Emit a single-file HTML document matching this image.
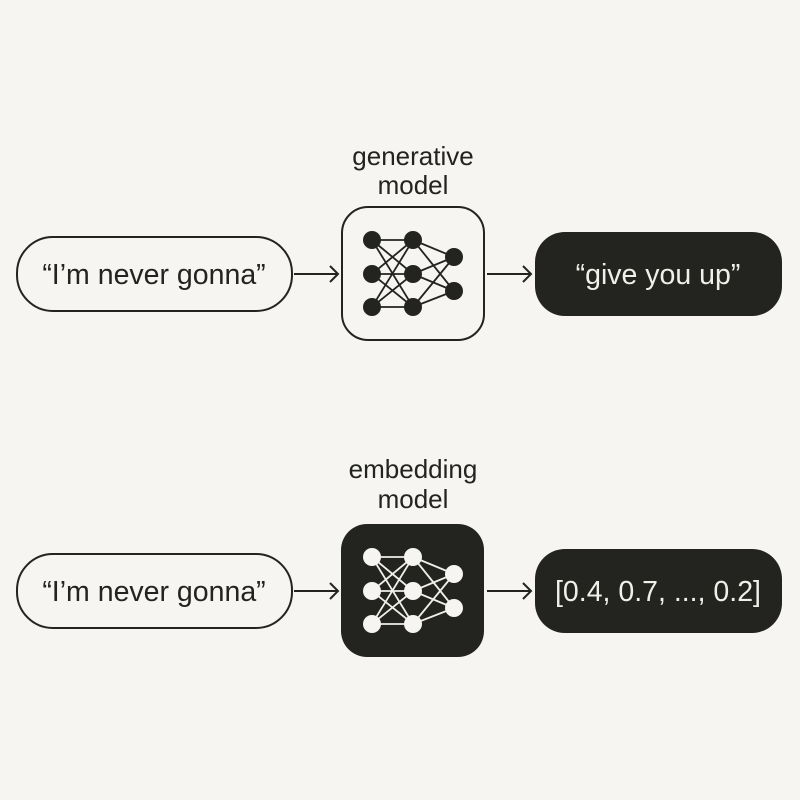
<!DOCTYPE html>
<html><head><style>
body{margin:0;background:#f6f5f1;}
svg{display:block}
text{font-family:"Liberation Sans",sans-serif;}
</style></head><body>
<svg width="800" height="800" viewBox="0 0 800 800">
<rect width="800" height="800" fill="#f6f5f1"/>
<g fill="#23231f" font-size="26" text-anchor="middle">
<text x="413" y="165">generative</text>
<text x="413" y="194">model</text>
<text x="413" y="478">embedding</text>
<text x="413" y="508">model</text>
</g>
<!-- top row -->
<rect x="17" y="237" width="275" height="74" rx="36" fill="none" stroke="#23231f" stroke-width="2"/>
<text x="154" y="284" font-size="28.5" text-anchor="middle" fill="#23231f">“I’m never gonna”</text>
<rect x="342" y="207" width="142" height="133" rx="26" fill="none" stroke="#23231f" stroke-width="2"/>
<rect x="535" y="232" width="247" height="84" rx="30" fill="#23231f"/>
<text x="658" y="284" font-size="28.5" text-anchor="middle" fill="#f0efe9">“give you up”</text>
<g stroke="#23231f" stroke-width="2" fill="none">
<path d="M294 274H338M330 266L338 274L330 282"/>
<path d="M487 274H531M523 266L531 274L523 282"/>
</g>
<!-- bottom row -->
<rect x="17" y="554" width="275" height="74" rx="36" fill="none" stroke="#23231f" stroke-width="2"/>
<text x="154" y="601" font-size="28.5" text-anchor="middle" fill="#23231f">“I’m never gonna”</text>
<rect x="341" y="524" width="143" height="133" rx="26" fill="#23231f"/>
<rect x="535" y="549" width="247" height="84" rx="30" fill="#23231f"/>
<text x="658" y="601" font-size="28.5" text-anchor="middle" fill="#f0efe9">[0.4, 0.7, ..., 0.2]</text>
<g stroke="#23231f" stroke-width="2" fill="none">
<path d="M294 591H338M330 583L338 591L330 599"/>
<path d="M487 591H531M523 583L531 591L523 599"/>
</g>
<!-- networks -->
<g stroke="#23231f" stroke-width="1.8" fill="#23231f">
<path d="M372 240L413 240M372 240L413 274M372 240L413 307M372 274L413 240M372 274L413 274M372 274L413 307M372 307L413 240M372 307L413 274M372 307L413 307M413 240L454 257M413 240L454 291M413 274L454 257M413 274L454 291M413 307L454 257M413 307L454 291"/>
<g stroke="none"><circle cx="372" cy="240" r="9"/><circle cx="372" cy="274" r="9"/><circle cx="372" cy="307" r="9"/><circle cx="413" cy="240" r="9"/><circle cx="413" cy="274" r="9"/><circle cx="413" cy="307" r="9"/><circle cx="454" cy="257" r="9"/><circle cx="454" cy="291" r="9"/></g>
</g>
<g stroke="#f0efe9" stroke-width="1.8" fill="#f6f5f1" transform="translate(0,317)">
<path d="M372 240L413 240M372 240L413 274M372 240L413 307M372 274L413 240M372 274L413 274M372 274L413 307M372 307L413 240M372 307L413 274M372 307L413 307M413 240L454 257M413 240L454 291M413 274L454 257M413 274L454 291M413 307L454 257M413 307L454 291"/>
<g stroke="none"><circle cx="372" cy="240" r="9"/><circle cx="372" cy="274" r="9"/><circle cx="372" cy="307" r="9"/><circle cx="413" cy="240" r="9"/><circle cx="413" cy="274" r="9"/><circle cx="413" cy="307" r="9"/><circle cx="454" cy="257" r="9"/><circle cx="454" cy="291" r="9"/></g>
</g>
</svg>
</body></html>
